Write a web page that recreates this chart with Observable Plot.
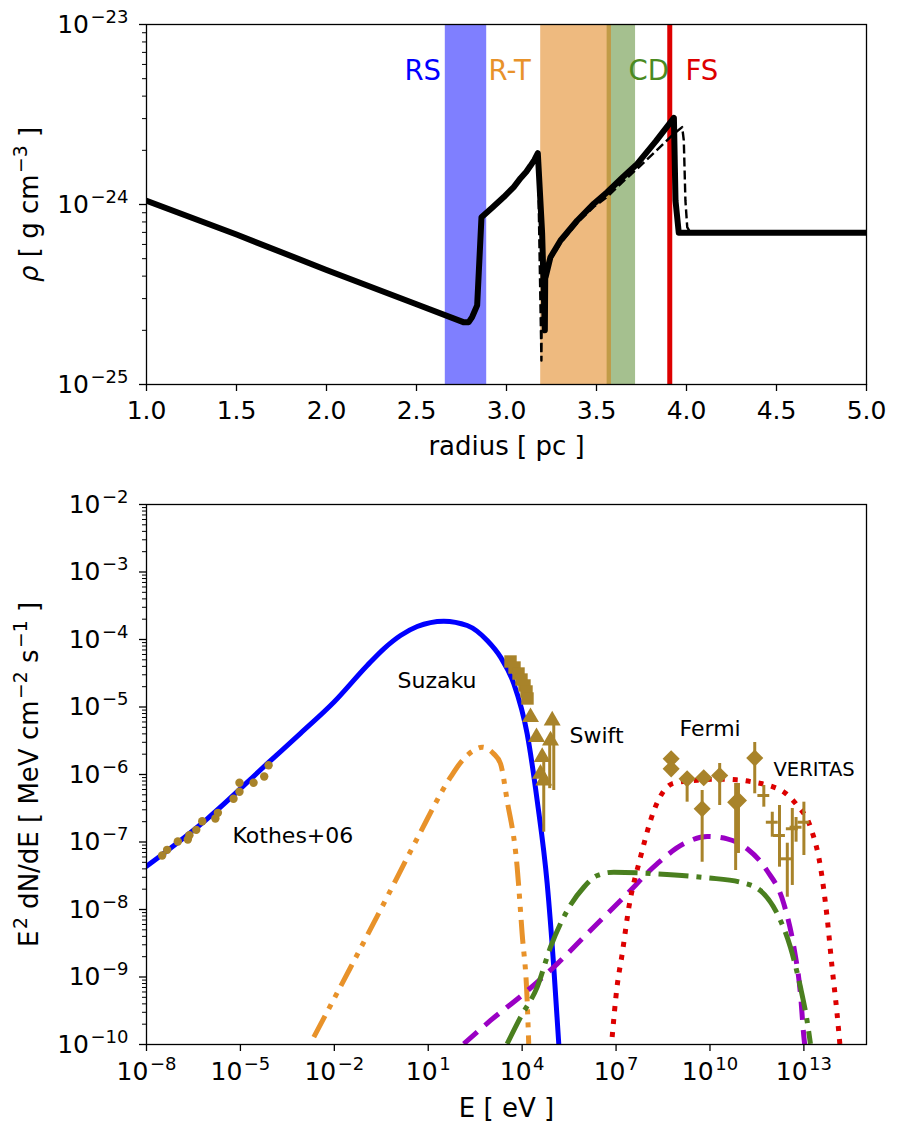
<!DOCTYPE html>
<html><head><meta charset="utf-8">
<script src="https://cdn.jsdelivr.net/npm/d3@7"></script>
<script src="https://cdn.jsdelivr.net/npm/@observablehq/plot@0.6"></script>
<style>
body{margin:0;background:#fff;}
#chart svg{display:block;}
</style></head><body><div id="chart"></div>
<script>
// ---------- TOP PANEL DATA (radius in pc, density in g cm^-3) ----------
const profileR   = [1.0, 1.5, 2.0, 2.5, 2.76, 2.79, 2.809, 2.837, 2.861, 2.92, 2.985, 3.04, 3.078, 3.11, 3.133, 3.155, 3.174, 3.198, 3.213, 3.215, 3.217, 3.244, 3.3, 3.393, 3.485, 3.559, 3.64, 3.726, 3.83, 3.93, 3.939, 3.957, 5.0];
const profileRho = [1.05e-24, 6.81e-25, 4.33e-25, 2.79e-25, 2.22e-25, 2.22e-25, 2.37e-25, 2.75e-25, 8.5e-25, 9.6e-25, 1.1e-24, 1.25e-24, 1.4e-24, 1.52e-24, 1.64e-24, 1.77e-24, 1.93e-24, 6.9e-25, 2.0e-25, 3.9e-25, 3.94e-25, 5.09e-25, 6.31e-25, 8.15e-25, 1.01e-24, 1.17e-24, 1.4e-24, 1.68e-24, 2.25e-24, 3.03e-24, 1.05e-24, 6.97e-25, 6.97e-25];
const dashR   = [1.0, 1.5, 2.0, 2.5, 2.76, 2.79, 2.809, 2.837, 2.861, 2.92, 2.985, 3.04, 3.078, 3.11, 3.133, 3.155, 3.174, 3.194, 3.197, 3.244, 3.3, 3.393, 3.485, 3.559, 3.64, 3.726, 3.83, 3.93, 3.976, 3.985, 3.994, 4.004, 4.022, 5.0];
const dashRho = [1.05e-24, 6.81e-25, 4.33e-25, 2.79e-25, 2.22e-25, 2.22e-25, 2.37e-25, 2.75e-25, 8.5e-25, 9.6e-25, 1.1e-24, 1.25e-24, 1.4e-24, 1.52e-24, 1.64e-24, 1.77e-24, 1.93e-24, 1.36e-25, 3.9e-25, 4.9e-25, 6.1e-25, 7.9e-25, 9.7e-25, 1.1e-24, 1.32e-24, 1.58e-24, 1.98e-24, 2.47e-24, 2.69e-24, 2.27e-24, 1.05e-24, 7.48e-25, 6.97e-25, 6.97e-25];
const regionNames = ["RS", "R-T", "CD"];
const regionFrom  = [2.66, 3.19, 3.559];
const regionTo    = [2.89, 3.583, 3.717];
const regionColor = ["#0000ff", "#dd7500", "#4b811f"];
const fsRadius = 3.907;
const topLabels      = ["RS", "R-T", "CD", "FS"];
const topLabelR      = [2.433, 2.9, 3.678, 3.994];
const topLabelColors = ["#0000ff", "#e8922a", "#4a8a1f", "#dd0000"];
const topLabelRho    = 5.53e-24;
const topXTicks = [1.0, 1.5, 2.0, 2.5, 3.0, 3.5, 4.0, 4.5, 5.0];
const topYTicks = [1e-25, 1e-24, 1e-23];

// ---------- BOTTOM PANEL DATA (log10 E [eV], log10 E^2 dN/dE [MeV cm^-2 s^-1]) ----------
const syncLogE = [-8, -6.06, -4.144, -3.08, -2.017, -0.95, -0.42, 0.114, 0.647, 1.497, 2.245, 2.884, 3.31, 3.736, 4.16, 4.48, 4.80, 5.01, 5.17];
const syncLogF = [-7.36, -6.656, -5.84, -5.39, -4.93, -4.385, -4.138, -3.941, -3.807, -3.728, -3.793, -4.015, -4.262, -4.657, -5.397, -6.385, -7.619, -8.855, -9.99];
const orangeLogE = [-2.655, -1.483, -0.42, 0.647, 1.711, 2.09, 2.45, 2.718, 3.09, 3.31, 3.52, 3.84, 4.0, 4.16, 4.21];
const orangeLogF = [-9.89, -8.859, -7.911, -6.948, -6.04, -5.79, -5.644, -5.595, -5.693, -5.84, -6.385, -7.37, -8.36, -9.348, -9.99];
const greenLogE = [3.52, 3.95, 4.48, 4.905, 5.44, 5.97, 6.4, 6.93, 8.31, 9.91, 10.97, 11.61, 12.15, 12.57, 12.89, 13.1, 13.21];
const greenLogF = [-9.99, -9.595, -9.15, -8.559, -8.015, -7.67, -7.496, -7.447, -7.472, -7.53, -7.595, -7.719, -8.064, -8.559, -9.15, -9.644, -9.99];
const purpleLogE = [2.135, 2.99, 4.05, 5.12, 6.18, 7.25, 8.31, 9.16, 9.91, 10.55, 11.19, 11.82, 12.36, 12.68, 12.89, 13.0, 13.05];
const purpleLogF = [-9.99, -9.644, -9.249, -8.805, -8.31, -7.818, -7.323, -7.027, -6.919, -6.953, -7.1, -7.422, -7.916, -8.559, -9.249, -9.89, -10.1];
const redLogE = [6.875, 7.03, 7.196, 7.41, 7.78, 8.21, 8.84, 9.6, 10.3, 10.85, 11.4, 11.88, 12.41, 12.77, 13.21, 13.53, 13.74, 13.9, 14.06, 14.15];
const redLogF = [-9.89, -9.15, -8.656, -7.966, -7.225, -6.533, -6.128, -6.085, -6.07, -6.079, -6.114, -6.163, -6.277, -6.449, -6.78, -7.37, -8.11, -8.855, -9.545, -10.0];

const kothesLogE = [-7.50, -7.34, -7.0, -6.68, -6.63, -6.41, -6.22, -5.80, -5.72, -5.22, -5.03, -5.03, -4.58, -4.24, -4.10];
const kothesLogF = [-7.2, -7.116, -6.993, -6.963, -6.9, -6.82, -6.692, -6.652, -6.568, -6.36, -6.256, -6.123, -6.123, -6.03, -5.862];
const suzakuLogE = [3.628, 3.756, 3.884, 3.979, 4.075, 4.139, 4.171];
const suzakuLogF = [-4.326, -4.415, -4.504, -4.593, -4.681, -4.770, -4.874];
const swiftLogE = [4.267, 4.96, 4.458, 4.906, 4.64, 4.586, 4.69];
const swiftLogF = [-5.151, -5.2, -5.447, -5.496, -5.743, -5.99, -6.089];
const swiftBarLogE  = [4.69, 4.88, 5.01];
const swiftBarLoF   = [-6.855, -6.21, -6.237];
const swiftBarHiF   = [-5.79, -5.45, -5.2];
const fermiLogE = [8.76, 8.76, 9.27, 9.80, 10.31, 9.75, 10.82, 10.91, 11.43];
const fermiLogF = [-5.767, -5.916, -6.064, -6.049, -6.015, -6.508, -6.41, -6.385, -5.756];
const fermiLoF  = [-5.767, -5.916, -6.41, -6.049, -6.459, -7.3, -7.422, -7.17, -6.286];
const fermiHiF  = [-5.767, -5.916, -6.064, -6.049, -5.837, -6.237, -6.133, -6.133, -5.526];
const veritasLogE = [11.72, 11.99, 12.22, 12.47, 12.63, 12.75, 13.0];
const veritasLogF = [-6.311, -6.707, -6.904, -7.249, -6.804, -6.781, -6.707];
const veritasLoF  = [-6.484, -6.929, -7.373, -7.818, -7.644, -7.003, -7.2];
const veritasHiF  = [-6.163, -6.559, -6.459, -7.018, -6.504, -6.637, -6.41];
const veritasHalfWidth = 0.19; // decades in E
const annoText = ["Kothes+06", "Suzaku", "Swift", "Fermi", "VERITAS"];
const annoLogE = [-5.253, 0.018, 5.513, 9.027, 12.03];
const annoLogF = [-6.904, -4.607, -5.433, -5.319, -5.923];
const annoSize = [22, 22, 22, 22, 19.5];
const botXTicks = [1e-8, 1e-5, 1e-2, 1e1, 1e4, 1e7, 1e10, 1e13];
const botYTicks = [1e-10, 1e-9, 1e-8, 1e-7, 1e-6, 1e-5, 1e-4, 1e-3, 1e-2];

// ---------- helpers ----------
const GOLD = "#a8832a";
const pw = v => Math.pow(10, v);
const pts = (xs, ys, fx = d => d, fy = d => d) => xs.map((x, i) => ({x: fx(x), y: fy(ys[i])}));
const powFmt = d => "10^{" + String(Math.round(Math.log10(d))).replace("-", "\u2212") + "}";
function minorTicks(d0, d1) {
  const out = [];
  for (let d = d0; d < d1; d++) for (let k = 2; k <= 9; k++) out.push(k * Math.pow(10, d));
  return out;
}
const svgns = "http://www.w3.org/2000/svg";
// "^{..}" -> superscript, "*{..}" -> italic
function supify(svg) {
  svg.querySelectorAll("text").forEach(t => {
    const s = t.textContent;
    if (!s.includes("^{") && !s.includes("*{")) return;
    const fs = parseFloat(getComputedStyle(t).fontSize) || 25;
    const parts = s.split(/([\^*]\{[^}]*\})/);
    t.textContent = "";
    let raised = 0;
    parts.forEach(p => {
      if (!p) return;
      let kind = "n", txt = p;
      if (/^\^\{/.test(p)) { kind = "sup"; txt = p.slice(2, -1); }
      else if (/^\*\{/.test(p)) { kind = "it"; txt = p.slice(2, -1); }
      const target = kind === "sup" ? -0.4 * fs : 0;
      const ts = document.createElementNS(svgns, "tspan");
      if (target - raised !== 0) ts.setAttribute("dy", target - raised);
      raised = target;
      if (kind === "sup") { ts.setAttribute("font-size", 0.72 * fs); ts.setAttribute("dx", 0.06 * fs); }
      if (kind === "it") ts.setAttribute("font-style", "italic");
      ts.textContent = txt;
      t.appendChild(ts);
    });
  });
}

const plotStyle = {fontFamily: "DejaVu Sans", background: "white", color: "black", overflow: "visible"};
const chartDiv = document.getElementById("chart");

// ---------- TOP PLOT ----------
const topDomainY = [1e-25, 1e-23];
const bands = regionNames.map((n, i) => ({name: n, x1: regionFrom[i], x2: regionTo[i], fill: regionColor[i]}));
const topPlot = Plot.plot({
  width: 902, height: 470,
  marginLeft: 146, marginRight: 36, marginTop: 24, marginBottom: 86,
  style: plotStyle,
  x: {domain: [1, 5]},
  y: {type: "log", domain: topDomainY},
  marks: [
    Plot.rect([bands[0]], {x1: "x1", x2: "x2", y1: topDomainY[0], y2: topDomainY[1], fill: "fill", fillOpacity: 0.5}),
    Plot.rect([bands[2]], {x1: "x1", x2: "x2", y1: topDomainY[0], y2: topDomainY[1], fill: "fill", fillOpacity: 0.5}),
    Plot.rect([bands[1]], {x1: "x1", x2: "x2", y1: topDomainY[0], y2: topDomainY[1], fill: "fill", fillOpacity: 0.5}),
    Plot.ruleX([fsRadius], {stroke: "#dd0000", strokeWidth: 5}),
    Plot.line(pts(dashR, dashRho), {x: "x", y: "y", stroke: "black", strokeWidth: 2.4, strokeDasharray: "9,4", strokeLinecap: "butt", clip: true}),
    Plot.line(pts(profileR, profileRho), {x: "x", y: "y", stroke: "black", strokeWidth: 6, strokeLinejoin: "round", clip: true}),
    Plot.text(topLabels, {x: (d, i) => topLabelR[i], y: () => topLabelRho, text: d => d, fill: (d, i) => topLabelColors[i], textAnchor: "start", fontSize: 27.5}),
    Plot.frame({stroke: "black", strokeWidth: 1.3}),
    Plot.axisX({ticks: topXTicks, tickFormat: d => d.toFixed(1), tickSize: 7, tickPadding: 10, fontSize: 25, strokeWidth: 1.3, label: null}),
    Plot.axisY({ticks: topYTicks, tickFormat: powFmt, tickSize: 7, tickPadding: 11, fontSize: 25, strokeWidth: 1.3, label: null}),
    Plot.axisY({ticks: minorTicks(-25, -23), tickFormat: () => "", tickSize: 4, strokeWidth: 1, label: null}),
    Plot.text(["radius [ pc ]"], {frameAnchor: "bottom", textAnchor: "middle", lineAnchor: "middle", dy: 62, fontSize: 26}),
    Plot.text(["*{\u03c1} [ g cm^{\u22123} ]"], {frameAnchor: "left", textAnchor: "middle", lineAnchor: "middle", rotate: -90, dx: -117, fontSize: 26})
  ]
});
chartDiv.appendChild(topPlot);

// ---------- BOTTOM PLOT ----------
const lineOpts = (stroke, dash) => ({x: "x", y: "y", stroke, strokeWidth: 5, strokeDasharray: dash, strokeLinecap: dash ? "butt" : "round", strokeLinejoin: "round", curve: "monotone-x", clip: true});
const swiftBars = swiftBarLogE.map((e, i) => ({x: pw(e), y1: pw(swiftBarLoF[i]), y2: pw(swiftBarHiF[i])}));
const fermiBars = fermiLogE.map((e, i) => ({x: pw(e), y1: pw(fermiLoF[i]), y2: pw(fermiHiF[i])})).filter(d => d.y1 !== d.y2);
const verBarsV = veritasLogE.map((e, i) => ({x: pw(e), y1: pw(veritasLoF[i]), y2: pw(veritasHiF[i])}));
const verBarsH = veritasLogE.map((e, i) => ({y: pw(veritasLogF[i]), x1: pw(e - veritasHalfWidth), x2: pw(e + veritasHalfWidth)}));
const bottomPlot = Plot.plot({
  width: 902, height: 666,
  marginLeft: 146, marginRight: 36, marginTop: 34, marginBottom: 92,
  style: plotStyle,
  x: {type: "log", domain: [1e-8, 1e15]},
  y: {type: "log", domain: [1e-10, 1e-2]},
  marks: [
    Plot.line(pts(syncLogE, syncLogF, pw, pw), lineOpts("#0000ff", null)),
    Plot.line(pts(orangeLogE, orangeLogF, pw, pw), lineOpts("#e8922a", "24,8,5,8,5,8")),
    Plot.line(pts(purpleLogE, purpleLogF, pw, pw), lineOpts("#9a00c4", "18,10")),
    Plot.line(pts(greenLogE, greenLogF, pw, pw), lineOpts("#4a7f1f", "30,8,5,8")),
    Plot.line(pts(redLogE, redLogF, pw, pw), lineOpts("#dd0000", "5,8")),
    Plot.dot(pts(kothesLogE, kothesLogF, pw, pw), {x: "x", y: "y", r: 4.2, fill: GOLD}),
    Plot.dot(pts(suzakuLogE, suzakuLogF, pw, pw), {x: "x", y: "y", r: 7, symbol: "square", fill: GOLD}),
    Plot.ruleX(swiftBars, {x: "x", y1: "y1", y2: "y2", stroke: GOLD, strokeWidth: 3}),
    Plot.dot(pts(swiftLogE, swiftLogF, pw, pw), {x: "x", y: "y", r: 6.3, symbol: "triangle", fill: GOLD}),
    Plot.ruleX(fermiBars, {x: "x", y1: "y1", y2: "y2", stroke: GOLD, strokeWidth: 3}),
    Plot.dot(pts(fermiLogE, fermiLogF, pw, pw), {x: "x", y: "y", r: 7.7, symbol: "diamond2", fill: GOLD}),
    Plot.ruleX(verBarsV, {x: "x", y1: "y1", y2: "y2", stroke: GOLD, strokeWidth: 3}),
    Plot.ruleY(verBarsH, {y: "y", x1: "x1", x2: "x2", stroke: GOLD, strokeWidth: 3}),
    Plot.text(annoText, {x: (d, i) => pw(annoLogE[i]), y: (d, i) => pw(annoLogF[i]), text: d => d, textAnchor: "start", fontSize: (d, i) => annoSize[i], fill: "black"}),
    Plot.frame({stroke: "black", strokeWidth: 1.3}),
    Plot.axisX({ticks: botXTicks, tickFormat: powFmt, tickSize: 7, tickPadding: 11, fontSize: 25, strokeWidth: 1.3, label: null}),
    Plot.axisY({ticks: botYTicks, tickFormat: powFmt, tickSize: 7, tickPadding: 11, fontSize: 25, strokeWidth: 1.3, label: null}),
    Plot.axisY({ticks: minorTicks(-10, -2), tickFormat: () => "", tickSize: 4, strokeWidth: 1, label: null}),
    Plot.text(["E [ eV ]"], {frameAnchor: "bottom", textAnchor: "middle", lineAnchor: "middle", dy: 64, fontSize: 26}),
    Plot.text(["E^{2} dN/dE [ MeV cm^{\u22122} s^{\u22121} ]"], {frameAnchor: "left", textAnchor: "middle", lineAnchor: "middle", rotate: -90, dx: -117, fontSize: 26})
  ]
});
chartDiv.appendChild(bottomPlot);
supify(topPlot);
supify(bottomPlot);
</script></body></html>
